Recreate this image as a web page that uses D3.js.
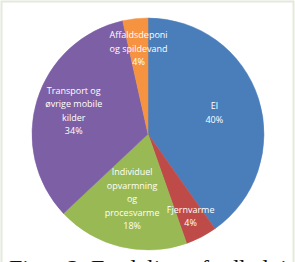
<!DOCTYPE html>
<html>
<head>
<meta charset="utf-8">
<script src="https://cdn.jsdelivr.net/npm/d3@7"></script>
<style>
  body { margin: 0; background: #fff; }
  svg { display: block; }
</style>
</head>
<body>
<svg width="295" height="262"></svg>
<script>
// data (clockwise from 12 o'clock)
const categories = [
  ["El"],
  ["Fjernvarme"],
  ["Individuel", "opvarmning", "og", "procesvarme"],
  ["Transport og", "øvrige mobile", "kilder"],
  ["Affaldsdeponi", "og spildevand"]
];
const shares = [40.2, 4.4, 18.4, 33.5, 3.5];
const colours = ["#4A7EBB", "#BE4B48", "#98B954", "#7D5FA6", "#F59340"];

const svg = d3.select("svg");
const width = +svg.attr("width");
const height = +svg.attr("height");

// faint frame of the scanned figure
svg.append("rect")
  .attr("x", 1.5).attr("y", 1.5)
  .attr("width", width - 3).attr("height", height + 5)
  .attr("fill", "#fff")
  .attr("stroke", "#e3ead9")
  .attr("stroke-width", 2);

const cx = 148, cy = 134, radius = 116;
// how far out each label sits (fraction of radius), like Excel's best fit
const labelR = [0.6, 0.8, 0.58, 0.67, 0.74];

const data = categories.map((c, i) => ({ lines: c, value: shares[i], i: i }));

const pie = d3.pie().sort(null).value(d => d.value);
const arc = d3.arc().innerRadius(0).outerRadius(radius);

const g = svg.append("g").attr("transform", "translate(" + cx + "," + cy + ")");

const arcs = pie(data);

g.selectAll("path")
  .data(arcs)
  .enter().append("path")
  .attr("d", arc)
  .attr("fill", d => colours[d.data.i])
  .attr("stroke", d => colours[d.data.i])
  .attr("stroke-width", 0.5);

const lineH = 13.5;
arcs.forEach(d => {
  const r = radius * labelR[d.data.i];
  const lab = d3.arc().innerRadius(r).outerRadius(r).centroid(d);
  const lines = d.data.lines.concat([Math.round(d.data.value) + "%"]);
  const t = g.append("text")
    .attr("text-anchor", "middle")
    .attr("fill", "#fff")
    .style("font-family", "'Open Sans', 'Liberation Sans', sans-serif")
    .style("font-size", "9px");
  const y0 = lab[1] - (lines.length - 1) * lineH / 2 + 3;
  lines.forEach((s, k) => {
    t.append("tspan")
      .attr("x", lab[0])
      .attr("y", y0 + k * lineH)
      .text(s);
  });
});

// caption, cut off at the bottom edge as in the scan
svg.append("text")
  .attr("x", 9)
  .attr("y", 276)
  .style("font-family", "'Liberation Serif', 'DejaVu Serif', serif")
  .style("font-size", "24px")
  .attr("fill", "#111")
  .text("Figur 2. Fordeling af udledningen");
</script>
</body>
</html>
